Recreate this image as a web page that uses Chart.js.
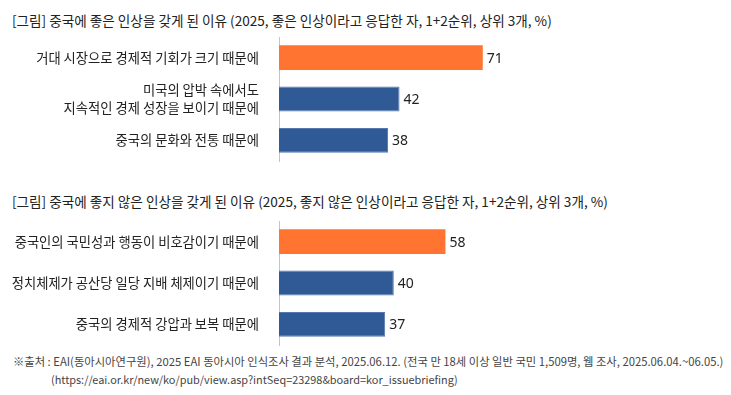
<!DOCTYPE html>
<html>
<head>
<meta charset="utf-8">
<script src="https://cdn.jsdelivr.net/npm/chart.js@4.4.1/dist/chart.umd.min.js"></script>
<style>
    body { margin: 0; background: #fff; font-family: "Noto Sans CJK KR", "Noto Sans", sans-serif; }
    .page { position: relative; width: 731px; height: 395px; overflow: hidden; }
    .title { position: absolute; left: 12px; font-size: 13.6px; color: #222; white-space: nowrap; line-height: 16px; }
    .chart-box { position: absolute; left: 0; width: 731px; height: 140px; }
    .note { position: absolute; color: #444; white-space: nowrap; line-height: 14px; }
</style>
</head>
<body>
<div class="page">
    <div class="title" style="top: 12px;">[그림] 중국에 좋은 인상을 갖게 된 이유 (2025, 좋은 인상이라고 응답한 자, 1+2순위, 상위 3개, %)</div>
    <div class="chart-box" style="top: 29px;"><canvas id="goodChart" width="731" height="140"></canvas></div>

    <div class="title" style="top: 193px;">[그림] 중국에 좋지 않은 인상을 갖게 된 이유 (2025, 좋지 않은 인상이라고 응답한 자, 1+2순위, 상위 3개, %)</div>
    <div class="chart-box" style="top: 213px;"><canvas id="badChart" width="731" height="140"></canvas></div>

    <div class="note" style="left: 13px; top: 354px; font-size: 11.3px;">※출처 : EAI(동아시아연구원), 2025 EAI 동아시아 인식조사 결과 분석, 2025.06.12. (전국 만 18세 이상 일반 국민 1,509명, 웹 조사, 2025.06.04.~06.05.)</div>
    <div class="note" style="left: 51px; top: 372px; font-size: 10.9px;">(https://eai.or.kr/new/ko/pub/view.asp?intSeq=23298&amp;board=kor_issuebriefing)</div>
</div>

<script>
const goodLabels = [
    '거대 시장으로 경제적 기회가 크기 때문에',
    ['미국의 압박 속에서도', '지속적인 경제 성장을 보이기 때문에'],
    '중국의 문화와 전통 때문에'
];
const goodValues = [71, 42, 38];

const badLabels = [
    '중국인의 국민성과 행동이 비호감이기 때문에',
    '정치체제가 공산당 일당 지배 체제이기 때문에',
    '중국의 경제적 강압과 보복 때문에'
];
const badValues = [58, 40, 37];

const ORANGE = '#ff7430';
const BLUE = '#2f5a96';

// value text right after each bar
const valueLabels = {
    id: 'valueLabels',
    afterDatasetsDraw(chart) {
        const ctx = chart.ctx;
        ctx.save();
        ctx.font = '14px "Noto Sans", "Noto Sans CJK KR", sans-serif';
        ctx.fillStyle = '#222';
        ctx.textAlign = 'left';
        ctx.textBaseline = 'middle';
        chart.getDatasetMeta(0).data.forEach((bar, i) => {
            ctx.fillText(chart.data.datasets[0].data[i], bar.x + 4, bar.y + 1);
        });
        ctx.restore();
    }
};

function makeChart(id, labels, values) {
    return new Chart(document.getElementById(id), {
        type: 'bar',
        data: {
            labels: labels,
            datasets: [{
                data: values,
                backgroundColor: values.map((v, i) => i === 0 ? ORANGE : BLUE),
                borderColor: values.map((v, i) => i === 0 ? ORANGE : '#5578ad'),
                borderWidth: values.map((v, i) => i === 0 ? 0 : {top: 1, right: 1, bottom: 1, left: 0}),
                borderSkipped: false,
                categoryPercentage: 0.6,
                barPercentage: 1
            }]
        },
        options: {
            indexAxis: 'y',
            responsive: false,
            animation: false,
            layout: {padding: {top: 8, bottom: 8, left: 0, right: 165}},
            plugins: {
                legend: {display: false},
                tooltip: {enabled: false}
            },
            scales: {
                x: {
                    display: false,
                    min: 0,
                    max: 100
                },
                y: {
                    afterFit(scale) {
                        scale.width = 279;
                        scale.paddingTop = 0;
                        scale.paddingBottom = 0;
                    },
                    grid: {display: false, drawTicks: false},
                    border: {display: true, color: '#c4c4c4', width: 1},
                    ticks: {
                        padding: 20,
                        color: '#222',
                        font: {family: '"Noto Sans CJK KR", sans-serif', size: 13.3, lineHeight: 1.38}
                    }
                }
            }
        },
        plugins: [valueLabels]
    });
}

makeChart('goodChart', goodLabels, goodValues);
makeChart('badChart', badLabels, badValues);
</script>
</body>
</html>
